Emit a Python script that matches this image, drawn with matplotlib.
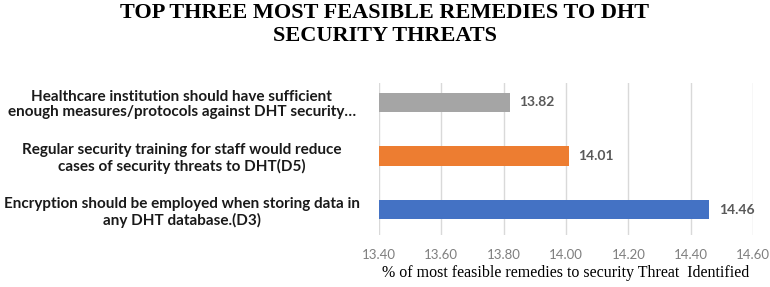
import matplotlib.pyplot as plt

labels = [
    "Encryption should be employed when storing data in\nany DHT database.(D3)",
    "Regular security training for staff would reduce\ncases of security threats to DHT(D5)",
    "Healthcare institution should have sufficient\nenough measures/protocols against DHT security\u2026",
]
values = [14.46, 14.01, 13.82]
colors = ["#4472C4", "#ED7D31", "#A5A5A5"]
xticks = [13.40, 13.60, 13.80, 14.00, 14.20, 14.40, 14.60]

fig = plt.figure(figsize=(7.7, 2.87), dpi=100)
ax = fig.add_axes([0.492, 0.181, 0.486, 0.530])

base = xticks[0]
ypos = list(range(len(values)))
ax.barh(ypos, [v - base for v in values], left=base, height=0.36, color=colors, zorder=3)

for y, v in zip(ypos, values):
    ax.text(v + 0.03, y, f"{v:.2f}", va="center", ha="left", fontsize=10,
            fontweight="bold", color="#595959", family="Lato")

ax.set_xlim(xticks[0], xticks[-1])
ax.set_ylim(-0.47, 2.36)
ax.set_xticks(xticks)
ax.set_xticklabels([f"{t:.2f}" for t in xticks], fontsize=9.5, color="#7f7f7f", family="Lato")
ax.set_yticks(ypos)
ax.set_yticklabels(labels, fontsize=11, fontweight="bold", color="#1a1a1a",
                   family="Lato", ha="center", linespacing=1.15)
ax.tick_params(axis="y", length=0, pad=142)
ax.tick_params(axis="x", length=0, pad=10)
ax.grid(axis="x", color="#d9d9d9", linewidth=1, zorder=0)
for s in ax.spines.values():
    s.set_visible(False)

ax.set_xlabel("% of most feasible remedies to security Threat  Identified",
              family="Liberation Serif", fontsize=11.5, labelpad=3)

fig.text(0.5, 0.99, "TOP THREE MOST FEASIBLE REMEDIES TO DHT\nSECURITY THREATS",
         ha="center", va="top", family="Liberation Serif", fontweight="bold",
         fontsize=16, linespacing=1.2)

fig.savefig("out.png", dpi=100)
